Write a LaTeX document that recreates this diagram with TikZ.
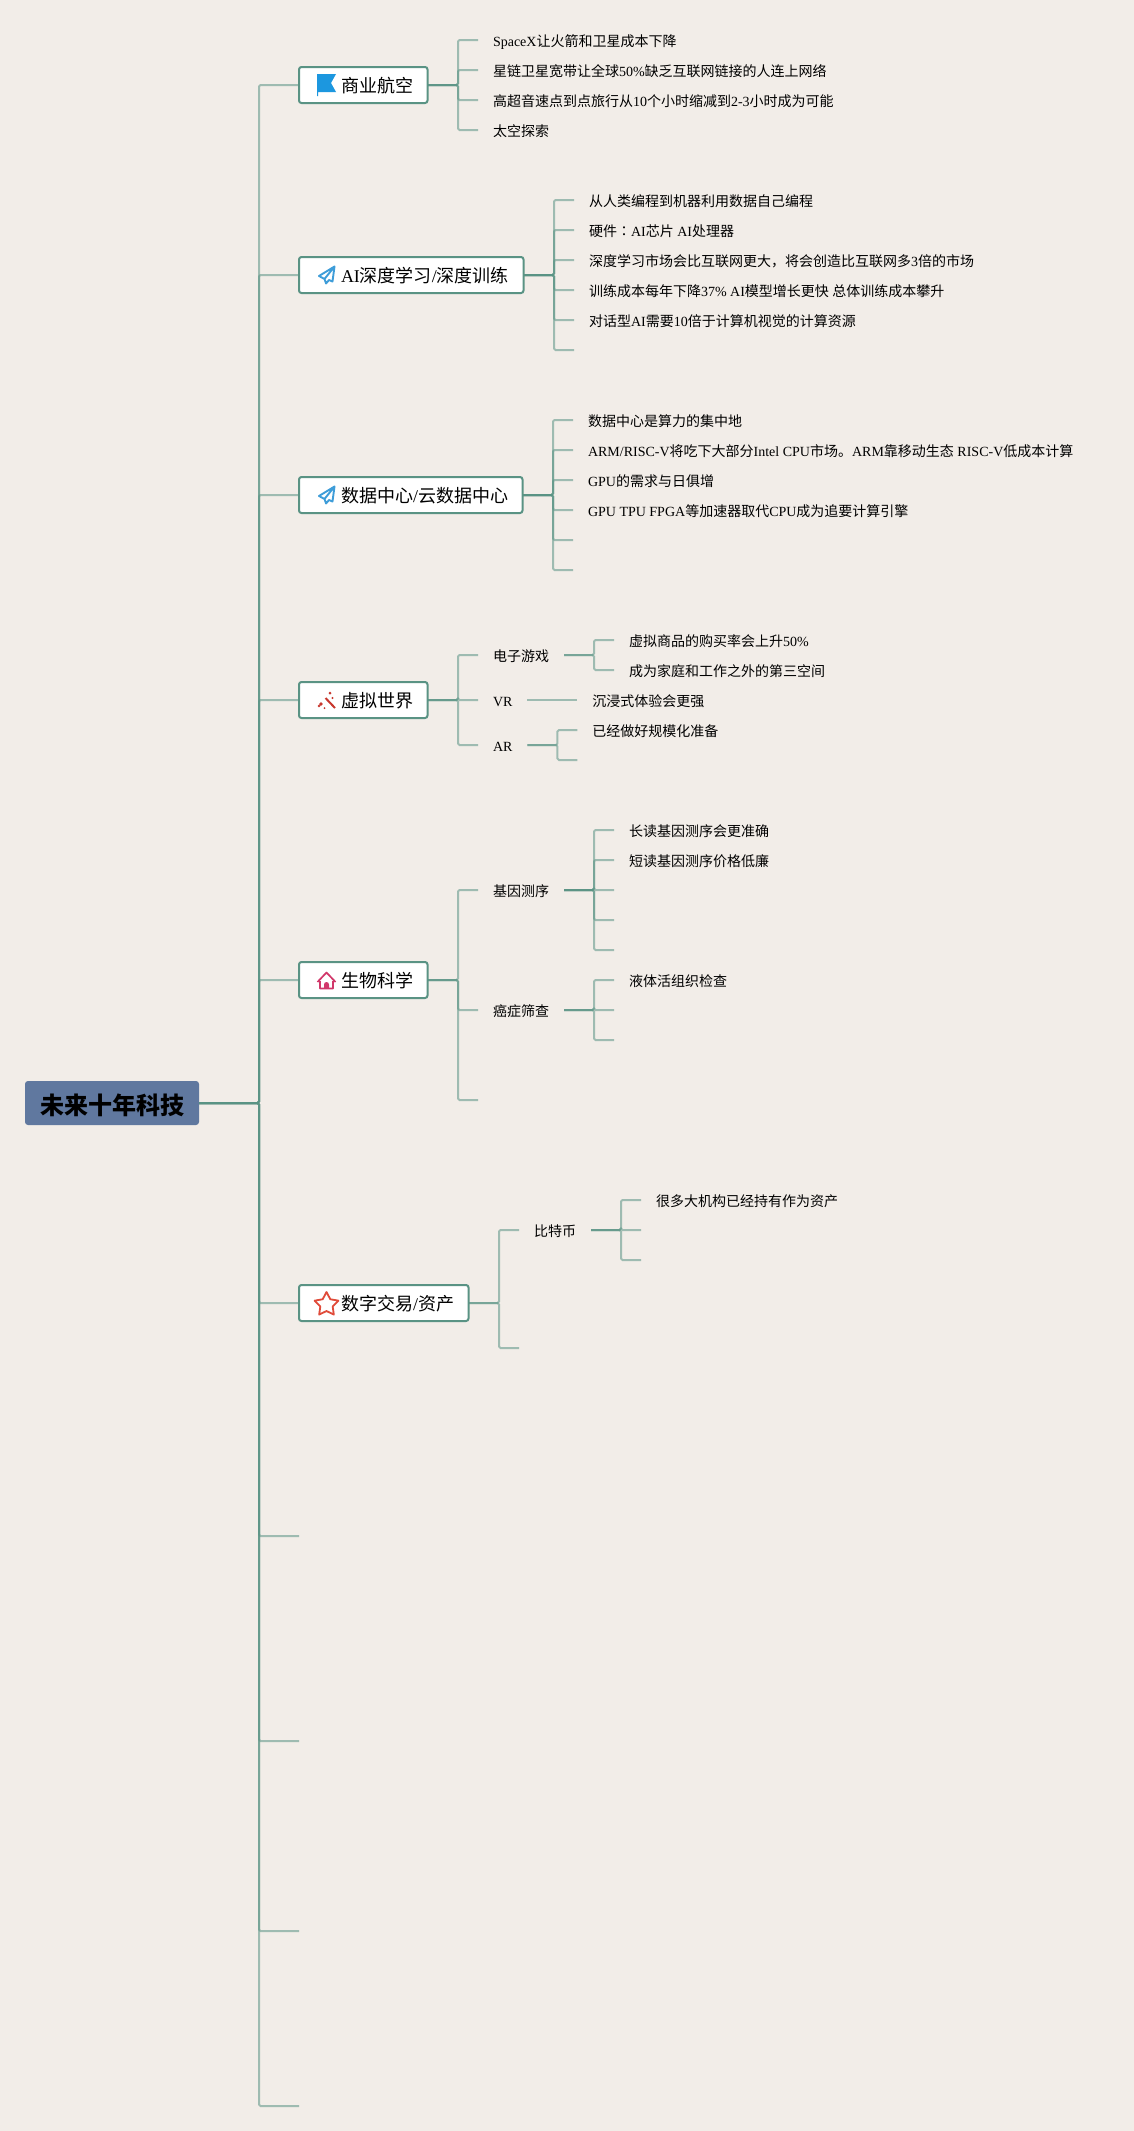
\documentclass[tikz,border=0pt]{standalone}
\usepackage{fontspec}
\setmainfont{Noto Sans CJK SC}
\newfontfamily\enfont{Liberation Serif}
\newfontfamily\tcfont{Noto Sans CJK TC}
\newcommand{\en}[1]{{\enfont #1}}
\usetikzlibrary{positioning}
\definecolor{paperbg}{HTML}{F2EDE8}
\definecolor{linkgreen}{HTML}{5A9384}
\definecolor{rootblue}{HTML}{60789F}
\definecolor{flagblue}{HTML}{1C97DF}
\definecolor{planeblue}{HTML}{3E9DD9}
\definecolor{wandred}{HTML}{C8372D}
\definecolor{housepink}{HTML}{D1386A}
\definecolor{starred}{HTML}{E04B3A}
\tikzset{
    flagicon/.pic={
        \fill[flagblue] (18,-11) -- (37,-11) -- (32,-2) -- (37,7) -- (19,7)
            -- (19,11) -- (18,11) -- cycle;
    },
    planeicon/.pic={
        \draw[planeblue, line width=1.9pt, line join=round]
            (35.5,-8.5) -- (20,1) -- (25.5,4) -- (27,8.5) -- (30,5) -- (33.5,6.5) -- cycle
            (35.5,-8.5) -- (25.5,4);
    },
    wandicon/.pic={
        \draw[wandred, line width=2pt] (26.5,-2) -- (36,8);
        \fill[wandred] (22,4) circle (1.9) (20,6) circle (1.3) (31,-7) circle (1.5)
            (33.5,-2) circle (1.1) (25.5,8) circle (1);
    },
    houseicon/.pic={
        \draw[housepink, line width=1.7pt, line join=round]
            (18.5,2) -- (27.5,-7.5) -- (36.5,2)
            (21,1) -- (21,8.5) -- (34,8.5) -- (34,1);
        \fill[housepink] (25,8.5) -- (25,4.5) arc[start angle=180, end angle=360, radius=2.5]
            -- (30,8.5) -- cycle;
    },
    staricon/.pic={
        \begin{scope}[shift={(27.5,1.5)}]
        \draw[starred, line width=1.8pt, line join=round]
            (-90:12.5) -- (-54:6.5) -- (-18:12.5) -- (18:6.5) -- (54:12.5) -- (90:6.5)
            -- (126:12.5) -- (162:6.5) -- (198:12.5) -- (234:6.5) -- cycle;
        \end{scope}
    }
}

\begin{document}
\begin{tikzpicture}[
    x=1pt, y=-1pt,
    rootnode/.style={fill=rootblue, rounded corners=3pt, inner xsep=15pt, inner ysep=0pt,
        minimum height=44pt, outer sep=0pt, text height=23pt, text depth=1pt,
        font=\fontsize{24}{24}\selectfont\bfseries},
    branch/.style={draw=linkgreen, fill=white, line width=2pt, rounded corners=2.5pt,
        inner xsep=14.5pt, inner ysep=0pt, minimum height=36pt, outer sep=0pt,
        text height=17pt, text depth=1.4pt, font=\fontsize{18}{18}\selectfont,
        execute at begin node=\hspace*{27.5pt}},
    nextbranch/.style 2 args={below=#2 of #1.south west, anchor=north west},
    leaf/.style={inner xsep=15pt, inner ysep=0pt, minimum height=30pt, outer sep=0pt,
        text height=14pt, text depth=2pt, font=\fontsize{14}{14}\selectfont},
    nextleaf/.style={below=0pt of #1.south west, anchor=north west},
    link/.style={draw=linkgreen, opacity=0.55, line width=2pt, rounded corners=1.5pt}
]
\fill[paperbg] (0,0) rectangle (1134,2131);
\useasboundingbox (0,0) rectangle (1134,2131);

\node[rootnode] (root) at (112,1103) {未来十年科技};
\coordinate[right=60pt of root.east] (trunk);

\node[branch, anchor=west] (aviation) at (299,85) {商业航空};
\node[branch, nextbranch={aviation}{154pt}] (deeplearn) {\en{AI}深度学习\en{/}深度训练};
\node[branch, nextbranch={deeplearn}{184pt}] (datacenter) {数据中心\en{/}云数据中心};
\node[branch, nextbranch={datacenter}{169pt}] (virtual) {虚拟世界};
\node[branch, nextbranch={virtual}{244pt}] (biotech) {生物科学};
\node[branch, nextbranch={biotech}{287pt}] (digital) {数字交易\en{/}资产};
\coordinate (blank1) at (299,1536);
\coordinate (blank2) at (299,1741);
\coordinate (blank3) at (299,1931);
\coordinate (blank4) at (299,2106);

\pic at (aviation.west) {flagicon};
\pic at (deeplearn.west) {planeicon};
\pic at (datacenter.west) {planeicon};
\pic at (virtual.west) {wandicon};
\pic at (biotech.west) {houseicon};
\pic at (digital.west) {staricon};

\coordinate[right=30.5pt of aviation.east] (avihub);
\node[leaf, right=50.5pt of aviation.east, yshift=45pt] (avi1) {\en{SpaceX}让火箭和卫星成本下降};
\node[leaf, nextleaf=avi1] (avi2) {星链卫星宽带让全球\en{50\%}缺乏互联网链接的人连上网络};
\node[leaf, nextleaf=avi2] (avi3) {高超音速点到点旅行从\en{10}个小时缩减到\en{2-3}小时成为可能};
\node[leaf, nextleaf=avi3] (avi4) {太空探索};

\coordinate[right=30.5pt of deeplearn.east] (learnhub);
\node[leaf, right=50.5pt of deeplearn.east, yshift=75pt] (learn1) {从人类编程到机器利用数据自己编程};
\node[leaf, nextleaf=learn1] (learn2) {硬件{\tcfont ：}\en{AI}芯片\en{ AI}处理器};
\node[leaf, nextleaf=learn2] (learn3) {深度学习市场会比互联网更大，将会创造比互联网多\en{3}倍的市场};
\node[leaf, nextleaf=learn3] (learn4) {训练成本每年下降\en{37\% AI}模型增长更快\en{ }总体训练成本攀升};
\node[leaf, nextleaf=learn4] (learn5) {对话型\en{AI}需要\en{10}倍于计算机视觉的计算资源};
\node[leaf, nextleaf=learn5] (learn6) {};

\coordinate[right=30.5pt of datacenter.east] (datahub);
\node[leaf, right=50.5pt of datacenter.east, yshift=75pt] (data1) {数据中心是算力的集中地};
\node[leaf, nextleaf=data1] (data2) {\en{ARM/RISC-V}将吃下大部分\en{Intel CPU}市场。\en{ARM}靠移动生态\en{ RISC-V}低成本计算};
\node[leaf, nextleaf=data2] (data3) {\en{GPU}的需求与日俱增};
\node[leaf, nextleaf=data3] (data4) {\en{GPU TPU FPGA}等加速器取代\en{CPU}成为追要计算引擎};
\node[leaf, nextleaf=data4] (data5) {};
\node[leaf, nextleaf=data5] (data6) {};

\coordinate[right=30.5pt of virtual.east] (virthub);
\node[leaf, right=50.5pt of virtual.east, yshift=45pt] (games) {电子游戏};
\node[leaf, below=15pt of games.south west, anchor=north west] (vr) {\en{VR}};
\node[leaf, below=15pt of vr.south west, anchor=north west] (ar) {\en{AR}};
\coordinate[right=30pt of games.east] (gamehub);
\node[leaf, right=50pt of games.east, yshift=15pt] (game1) {虚拟商品的购买率会上升\en{50\%}};
\node[leaf, nextleaf=game1] (game2) {成为家庭和工作之外的第三空间};
\node[leaf, right=50pt of vr.east] (vr1) {沉浸式体验会更强};
\coordinate[right=30pt of ar.east] (arhub);
\node[leaf, right=50pt of ar.east, yshift=15pt] (ar1) {已经做好规模化准备};
\node[leaf, nextleaf=ar1] (ar2) {};

\coordinate[right=30.5pt of biotech.east] (biohub);
\node[leaf, right=50.5pt of biotech.east, yshift=90pt] (gene) {基因测序};
\node[leaf, below=90pt of gene.south west, anchor=north west] (cancer) {癌症筛查};
\node[leaf, below=60pt of cancer.south west, anchor=north west] (bioend) {};
\coordinate[right=30pt of gene.east] (genehub);
\node[leaf, right=50pt of gene.east, yshift=60pt] (gene1) {长读基因测序会更准确};
\node[leaf, nextleaf=gene1] (gene2) {短读基因测序价格低廉};
\node[leaf, nextleaf=gene2] (gene3) {};
\node[leaf, nextleaf=gene3] (gene4) {};
\node[leaf, nextleaf=gene4] (gene5) {};
\coordinate[right=30pt of cancer.east] (cancerhub);
\node[leaf, right=50pt of cancer.east, yshift=30pt] (cancer1) {液体活组织检查};
\node[leaf, nextleaf=cancer1] (cancer2) {};
\node[leaf, nextleaf=cancer2] (cancer3) {};

\coordinate[right=30.5pt of digital.east] (dighub);
\node[leaf, right=50.5pt of digital.east, yshift=73pt] (bitcoin) {比特币};
\node[leaf, right=50.5pt of digital.east, yshift=-45pt] (digend) {};
\coordinate[right=30pt of bitcoin.east] (coinhub);
\node[leaf, right=50pt of bitcoin.east, yshift=30pt] (coin1) {很多大机构已经持有作为资产};
\node[leaf, nextleaf=coin1] (coin2) {};
\node[leaf, nextleaf=coin2] (coin3) {};

\draw[link] (root.east) -- (trunk) |- (aviation.west);
\draw[link] (root.east) -- (trunk) |- (deeplearn.west);
\draw[link] (root.east) -- (trunk) |- (datacenter.west);
\draw[link] (root.east) -- (trunk) |- (virtual.west);
\draw[link] (root.east) -- (trunk) |- (biotech.west);
\draw[link] (root.east) -- (trunk) |- (digital.west);
\draw[link] (root.east) -- (trunk) |- (blank1);
\draw[link] (root.east) -- (trunk) |- (blank2);
\draw[link] (root.east) -- (trunk) |- (blank3);
\draw[link] (root.east) -- (trunk) |- (blank4);

\draw[link] (aviation.east) -- (avihub) |- (avi1.west);
\draw[link] (aviation.east) -- (avihub) |- (avi2.west);
\draw[link] (aviation.east) -- (avihub) |- (avi3.west);
\draw[link] (aviation.east) -- (avihub) |- (avi4.west);

\draw[link] (deeplearn.east) -- (learnhub) |- (learn1.west);
\draw[link] (deeplearn.east) -- (learnhub) |- (learn2.west);
\draw[link] (deeplearn.east) -- (learnhub) |- (learn3.west);
\draw[link] (deeplearn.east) -- (learnhub) |- (learn4.west);
\draw[link] (deeplearn.east) -- (learnhub) |- (learn5.west);
\draw[link] (deeplearn.east) -- (learnhub) |- (learn6.west);

\draw[link] (datacenter.east) -- (datahub) |- (data1.west);
\draw[link] (datacenter.east) -- (datahub) |- (data2.west);
\draw[link] (datacenter.east) -- (datahub) |- (data3.west);
\draw[link] (datacenter.east) -- (datahub) |- (data4.west);
\draw[link] (datacenter.east) -- (datahub) |- (data5.west);
\draw[link] (datacenter.east) -- (datahub) |- (data6.west);

\draw[link] (virtual.east) -- (virthub) |- (games.west);
\draw[link] (virtual.east) -- (virthub) |- (vr.west);
\draw[link] (virtual.east) -- (virthub) |- (ar.west);
\draw[link] (games.east) -- (gamehub) |- (game1.west);
\draw[link] (games.east) -- (gamehub) |- (game2.west);
\draw[link] (vr.east) -- (vr1.west);
\draw[link] (ar.east) -- (arhub) |- (ar1.west);
\draw[link] (ar.east) -- (arhub) |- (ar2.west);

\draw[link] (biotech.east) -- (biohub) |- (gene.west);
\draw[link] (biotech.east) -- (biohub) |- (cancer.west);
\draw[link] (biotech.east) -- (biohub) |- (bioend.west);
\draw[link] (gene.east) -- (genehub) |- (gene1.west);
\draw[link] (gene.east) -- (genehub) |- (gene2.west);
\draw[link] (gene.east) -- (genehub) |- (gene3.west);
\draw[link] (gene.east) -- (genehub) |- (gene4.west);
\draw[link] (gene.east) -- (genehub) |- (gene5.west);
\draw[link] (cancer.east) -- (cancerhub) |- (cancer1.west);
\draw[link] (cancer.east) -- (cancerhub) |- (cancer2.west);
\draw[link] (cancer.east) -- (cancerhub) |- (cancer3.west);

\draw[link] (digital.east) -- (dighub) |- (bitcoin.west);
\draw[link] (digital.east) -- (dighub) |- (digend.west);
\draw[link] (bitcoin.east) -- (coinhub) |- (coin1.west);
\draw[link] (bitcoin.east) -- (coinhub) |- (coin2.west);
\draw[link] (bitcoin.east) -- (coinhub) |- (coin3.west);
\end{tikzpicture}
\end{document}
